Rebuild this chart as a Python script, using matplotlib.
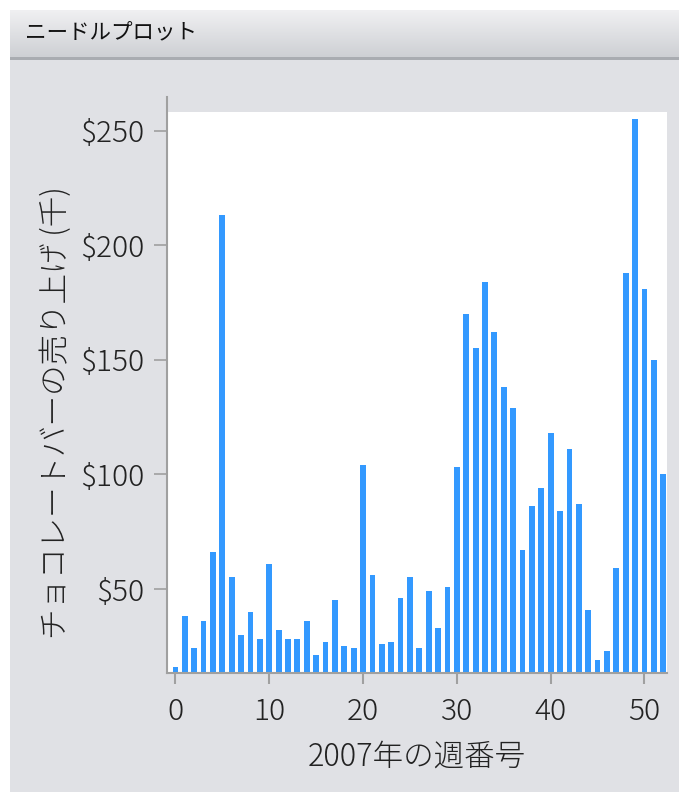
import matplotlib
matplotlib.use("Agg")
import matplotlib.pyplot as plt
import numpy as np
from matplotlib.patches import Rectangle
from matplotlib.lines import Line2D

plt.rcParams['font.family'] = ['Noto Sans CJK JP', 'DejaVu Sans']

# ---- data ----
weeks = list(range(0, 53))
sales = [16, 38, 24, 36, 66, 213, 55, 30, 40, 28, 61, 32, 28, 28, 36, 21, 27,
         45, 25, 24, 104, 56, 26, 27, 46, 55, 24, 49, 33, 51, 103, 170, 155,
         184, 162, 138, 129, 67, 86, 94, 118, 84, 111, 87, 41, 19, 23, 59,
         188, 255, 181, 150, 100]
yticks = [50, 100, 150, 200, 250]
ytick_labels = ['$50', '$100', '$150', '$200', '$250']
xticks = [0, 10, 20, 30, 40, 50]
title = 'ニードルプロット'
xlabel = '2007年の週番号'
ylabel = 'チョコレートバーの売り上げ (千)'

W, H = 679, 792
fig = plt.figure(figsize=(W / 100, H / 100), dpi=100)
fig.patch.set_facecolor('white')

def fx(px):
    return px / W

def fy(py):
    return 1 - py / H

# panel background
fig.patches.append(Rectangle((fx(10), 0), 1 - fx(10), fy(10), transform=fig.transFigure,
                             facecolor='#e0e1e5', edgecolor='none', zorder=0))
# title bar gradient
tb = fig.add_axes([fx(10), fy(57), 1 - fx(10), fy(10) - fy(57)], zorder=1)
grad = np.linspace(0, 1, 64).reshape(-1, 1)
top_c = np.array([240, 240, 242]) / 255
bot_c = np.array([206, 208, 212]) / 255
img = top_c[None, None, :] * (1 - grad[:, :, None]) + bot_c[None, None, :] * grad[:, :, None]
tb.imshow(img, aspect='auto', extent=[0, 1, 0, 1], origin='upper')
tb.set_axis_off()
fig.patches.append(Rectangle((fx(10), fy(60)), 1 - fx(10), fy(57) - fy(60), transform=fig.transFigure,
                             facecolor='#a9acb1', edgecolor='none', zorder=2))
fig.text(fx(25), fy(33), title, fontsize=15.5, color='#111111', va='center', ha='left')

# main axes
L, R, T, B = 167, 667, 112, 673
ax = fig.add_axes([fx(L), fy(B), fx(R) - fx(L), fy(T) - fy(B)], zorder=3)
ax.set_facecolor('white')
ax.bar(weeks, sales, width=0.62, color='#3399ff', edgecolor='none')
ax.set_xlim(-0.9, 52.4)
ax.set_ylim(13.3, 258.1)
ax.set_yticks(yticks)
ax.set_yticklabels(ytick_labels)
ax.set_xticks(xticks)
for s in ['top', 'right', 'left']:
    ax.spines[s].set_visible(False)
ax.spines['bottom'].set_color('#a0a0a0')
ax.spines['bottom'].set_linewidth(1.5)
ax.tick_params(axis='y', length=9.5, width=1.2, color='#a0a0a0', pad=7, labelsize=21.5, labelcolor='#222222')
ax.tick_params(axis='x', length=8, width=1.5, color='#a0a0a0', pad=9, labelsize=21.5, labelcolor='#222222')
for lab in ax.get_xticklabels() + ax.get_yticklabels():
    lab.set_fontweight('light')
ax.set_xlabel(xlabel, fontsize=22, color='#222222', labelpad=10, fontweight='light')
ax.set_ylabel(ylabel, fontsize=22, color='#222222', fontweight='light')
ax.yaxis.set_label_coords(-0.19, 0.465)

# extended left spine
fig.add_artist(Line2D([fx(L), fx(L)], [fy(97), fy(B)], transform=fig.transFigure,
                      color='#a0a0a0', linewidth=1.5, zorder=5))

fig.savefig('out.png', dpi=100, facecolor=fig.get_facecolor())
